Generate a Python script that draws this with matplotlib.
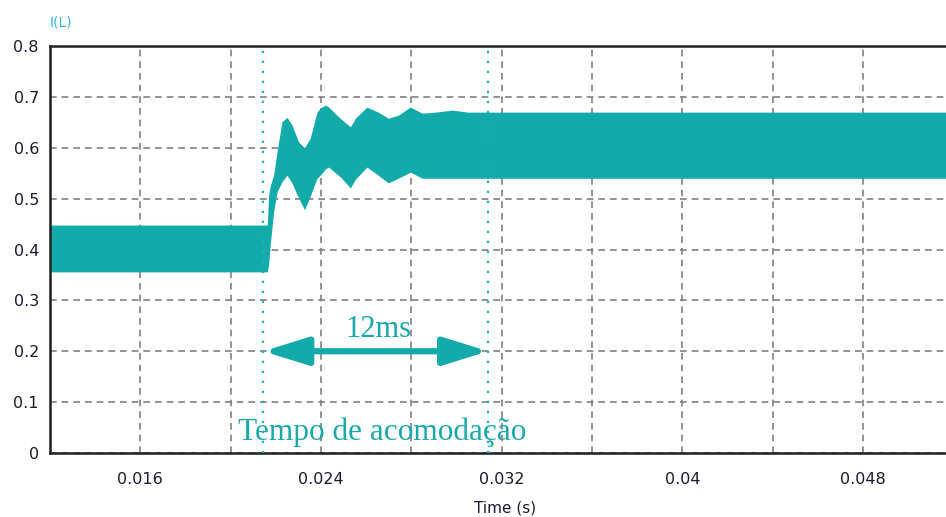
import numpy as np
import matplotlib.pyplot as plt
import matplotlib.ticker as mticker

# Envelope of the inductor current I(L) (ripple band), time in ms
t_ms = [12.0, 21.62, 21.68, 21.75, 21.90, 22.05, 22.27, 22.49, 22.71, 23.01,
        23.27, 23.52, 23.82, 23.97, 24.19, 24.33, 24.85, 25.30, 25.52, 26.03,
        26.53, 26.98, 27.42, 27.95, 28.48, 29.06, 29.81, 30.50, 52.0]
i_max = [0.448, 0.448, 0.507, 0.525, 0.546, 0.592, 0.651, 0.660, 0.645, 0.611,
         0.600, 0.619, 0.670, 0.678, 0.684, 0.680, 0.658, 0.641, 0.658, 0.680,
         0.670, 0.658, 0.664, 0.680, 0.668, 0.670, 0.674, 0.670, 0.670]
i_min = [0.356, 0.356, 0.370, 0.409, 0.474, 0.513, 0.533, 0.546, 0.531, 0.501,
         0.478, 0.505, 0.540, 0.546, 0.558, 0.562, 0.543, 0.521, 0.538, 0.562,
         0.546, 0.531, 0.540, 0.552, 0.540, 0.540, 0.540, 0.540, 0.540]

# settling window markers (s)
t_inicio = 0.02144
t_fim = 0.03140
arrow_y = 0.2

x_ticks = [0.016, 0.024, 0.032, 0.04, 0.048]
x_labels = ['0.016', '0.024', '0.032', '0.04', '0.048']
y_ticks = [0, 0.1, 0.2, 0.3, 0.4, 0.5, 0.6, 0.7, 0.8]
y_labels = ['0', '0.1', '0.2', '0.3', '0.4', '0.5', '0.6', '0.7', '0.8']

cor = '#13aba9'
cor_txt = '#1aa9a9'

fig = plt.figure(figsize=(9.46, 5.17), dpi=100)
ax = fig.add_axes([50 / 946, 64 / 517, 1 - 50 / 946, (453 - 46) / 517])

t = np.array(t_ms) / 1000.0
ax.fill_between(t, i_min, i_max, color=cor, linewidth=0, zorder=2)

ax.set_xlim(0.012, 0.05167)
ax.set_ylim(0, 0.8)

# grid every 0.004 s, labels every 0.008 s
ax.xaxis.set_major_locator(mticker.FixedLocator(x_ticks))
ax.xaxis.set_major_formatter(mticker.FixedFormatter(x_labels))
ax.xaxis.set_minor_locator(mticker.FixedLocator([0.020, 0.028, 0.036, 0.044]))
ax.yaxis.set_major_locator(mticker.FixedLocator(y_ticks))
ax.yaxis.set_major_formatter(mticker.FixedFormatter(y_labels))
ax.grid(True, which='both', linestyle=(0, (4, 3)), color='#808080',
        linewidth=1.2, zorder=1)
ax.tick_params(which='both', length=0, labelsize=11.5, labelcolor='#1a1a30')
ax.tick_params(axis='x', pad=14)
ax.tick_params(axis='y', pad=8)

for s in ['left', 'top', 'bottom']:
    ax.spines[s].set_linewidth(1.8)
    ax.spines[s].set_color('#202020')
ax.spines['right'].set_visible(False)

# settling time markers
for tv in [t_inicio, t_fim]:
    ax.axvline(tv, color='#19b2c0', linestyle=(0, (1, 3.5)), linewidth=1.6, zorder=3)

ax.annotate('', xy=(t_fim, arrow_y), xytext=(t_inicio, arrow_y),
            arrowprops=dict(arrowstyle='<|-|>, head_length=1.35, head_width=0.42',
                            mutation_scale=20, color=cor, linewidth=4.5,
                            shrinkA=0, shrinkB=0), zorder=4)
ax.text(0.02655, 0.228, '12ms', fontsize=22, family='Liberation Serif',
        color=cor_txt, ha='center', va='baseline', zorder=4)
ax.text(0.02034, 0.026, 'Tempo de acomodação', fontsize=22.5,
        family='Liberation Serif', color=cor_txt, ha='left', va='baseline', zorder=4)

fig.text(50 / 946, 1 - 22 / 517, 'I(L)', fontsize=10, color='#35b8d8',
         ha='left', va='center')
fig.text(505 / 946, 1 - 508 / 517, 'Time (s)', fontsize=11, color='#1a1a30',
         ha='center', va='center')

fig.savefig('out.png', dpi=100)
